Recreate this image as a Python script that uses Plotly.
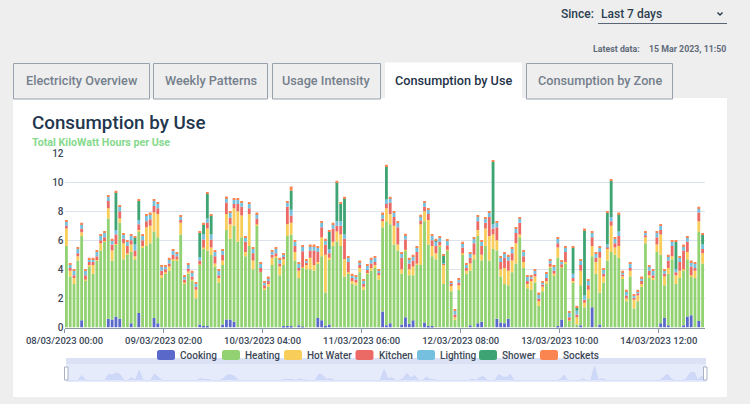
#!/usr/bin/env python3
"""Consumption by use dashboard panel: stacked hourly bars with a range strip."""

import plotly.graph_objects as go

WIDTH, HEIGHT = 750, 404
FONT = "Roboto, sans-serif"

# ── data ──────────────────────────────────────────────────────────────────────

tick_labels = [
    "08/03/2023 00:00", "09/03/2023 02:00", "10/03/2023 04:00", "11/03/2023 06:00",
    "12/03/2023 08:00", "13/03/2023 10:00", "14/03/2023 12:00",
]
y_ticks = [0, 2, 4, 6, 8, 10, 12]

cooking = [
    0, 0, 0, 0, .5, 0, 0, 0, 0, 0,
    0, .6, .55, .75, .6, 0, 0, .3, 0, 1.0,
    0, 0, 0, .65, .3, 0, 0, 0, 0, 0,
    0, 0, 0, 0, 0, .2, .1, .1, 0, 0,
    0, .2, .55, .55, .4, 0, 0, 0, 0, 0,
    0, 0, 0, 0, 0, 0, 0, .1, .1, .1,
    0, .15, .05, 0, 0, 0, .65, .5, .1, .2,
    0, 0, 0, 0, 0, 0, 0, 0, 0, 0,
    0, 0, 0, 1.1, .15, .3, 0, 0, .2, .7,
    .25, .5, 0, 0, .35, .1, .1, 0, 0, 0,
    0, 0, 0, 0, 0, 0, .15, 0, .3, .4,
    0, 0, 0, .6, .35, .3, .6, 0, 0, 0,
    0, 0, 0, 0, 0, 0, 0, 0, 0, .1,
    .55, 0, 0, 0, 0, .15, 0, 0, 1.4, 0,
    .2, 0, 0, 0, 0, 0, 0, 0, 0, 0,
    0, 0, 0, 0, 0, 0, .3, .65, .15, 0,
    0, 0, .15, .75, .85, 0, .45, 0,
]
heating = [
    5.6, 3.5, 3.0, 4.6, 5.8, 3.2, 4.2, 3.7, 4.6, 5.3,
    5.9, 6.9, 4.05, 4.95, 6.6, 4.7, 5.05, 4.9, 4.7, 5.6,
    5.5, 5.6, 5.8, 5.95, 5.9, 3.4, 3.7, 3.9, 4.6, 4.6,
    6.4, 3.0, 3.7, 3.25, 2.0, 4.1, 5.3, 5.2, 5.0, 4.2,
    3.1, 4.1, 6.15, 5.55, 6.6, 5.9, 6.2, 4.9, 5.6, 4.0,
    7.0, 3.8, 2.6, 2.8, 4.3, 4.8, 3.6, 4.2, 6.2, 6.3,
    4.6, 3.25, 4.05, 4.0, 4.0, 3.9, 3.75, 4.4, 2.3, 4.5,
    5.6, 5.9, 5.6, 3.5, 3.7, 3.0, 2.9, 3.8, 2.6, 3.7,
    3.9, 4.1, 3.3, 5.8, 7.15, 6.8, 5.7, 5.3, 3.5, 4.6,
    3.35, 3.1, 4.3, 4.3, 6.95, 5.6, 4.8, 4.7, 5.6, 3.0,
    5.3, 2.5, .55, 2.6, 5.0, 3.7, 3.75, 4.7, 6.0, 4.2,
    5.6, 4.6, 5.4, 4.7, 3.15, 2.7, 2.3, 3.8, 4.4, 6.2,
    4.1, 2.7, 2.6, 3.1, 1.5, 2.5, 3.0, 4.1, 3.6, 4.7,
    3.55, 4.4, .45, 3.1, .2, 2.75, 1.4, 2.0, 3.5, 3.7,
    2.2, 3.1, 4.6, 5.2, 5.0, 4.8, 3.4, 1.8, 3.5, 1.3,
    1.8, 2.8, 5.8, 3.4, 3.3, 5.2, 4.7, 2.25, 3.55, 4.7,
    3.0, 3.4, 3.75, 3.95, 2.65, 3.4, 6.15, 4.4,
]
hot_water = [
    1.2, .4, .4, .3, .25, .1, .1, .6, .05, .5,
    .05, .7, .7, .05, .3, 1.1, .05, .5, .2, .1,
    .1, 1.3, 1.2, 1.3, 1.6, .2, .1, .3, .1, .1,
    .8, .1, .15, .05, .6, .05, .1, 1.5, .5, .2,
    .3, .3, 1.1, 1.0, 1.2, 2.1, 1.5, .3, 2.2, .6,
    .1, 0, .1, .2, .5, .1, .6, .4, .8, .8,
    .6, .5, .05, .3, .8, .4, .1, 1.3, 2.6, .1,
    .3, .7, .8, 1.2, .1, .2, .2, .3, .2, .05,
    .2, .2, .3, .4, .9, .7, 1.3, .4, .3, .05,
    .4, .6, .1, 2.8, .7, 1.7, .7, .4, .05, 1.3,
    .05, .4, .15, .3, .1, .2, .5, .3, .4, .4,
    1.2, 1.7, 1.0, .7, .5, 1.1, 1.0, .8, 1.4, .2,
    .4, .3, .6, .4, .3, .3, .2, .1, .1, .7,
    .05, .1, .05, .1, .5, 1.0, .3, .6, .7, .8,
    2.4, .4, .8, 1.8, .5, .8, .1, .2, .4, .6,
    .4, .2, .4, .2, .1, .5, 1.4, .6, .4, .2,
    .6, .5, .1, .5, .1, .5, .7, .7,
]
kitchen = [
    .2, .2, .2, .2, .25, .3, .2, .2, .25, .2,
    .25, .5, .4, .65, .5, .3, .5, .3, .4, .4,
    .4, .4, .45, .45, .4, .3, .2, .2, .3, .2,
    .2, .2, .2, .2, .2, .25, .55, .4, .55, .5,
    .2, .4, .8, .45, .3, .5, .6, .7, .4, .5,
    .4, .3, .2, .2, .2, .2, .2, .15, 1.2, .5,
    .4, .2, 1.1, .15, .5, 1.0, .7, .7, .7, .3,
    .9, .4, .6, 1.4, .7, .2, .2, .2, .2, .2,
    .3, .2, .15, .2, .3, .8, .6, 1.2, .8, .7,
    .4, .4, .8, .25, .3, .4, .4, .5, .25, .08,
    .3, .1, .2, .2, .4, .2, .4, .8, .6, .6,
    .4, 1.3, .4, .9, .5, .7, .7, .5, .7, .8,
    .4, .2, .15, .2, .2, .15, .2, .2, .2, .3,
    .2, .7, .2, .2, .2, .4, .2, .3, .6, .3,
    .4, .2, .1, .3, .3, .7, .15, .2, .2, .15,
    .15, .2, .15, .3, .2, .5, .3, .2, .5, .7,
    .2, .6, 1.3, .7, .6, .2, .6, .3,
]
lighting = [
    .3, .2, .3, .3, .3, .3, .2, .2, .3, .3,
    .3, .3, .3, .3, .3, .3, .3, .3, .4, .3,
    .3, .4, .35, .35, .3, .3, .2, .3, .3, .2,
    .2, .2, .25, .3, .2, .25, .35, .3, .35, .3,
    .3, .3, .3, .35, .3, .3, .3, .3, .3, .3,
    .3, .3, .2, .2, .2, .3, .3, .15, .3, .4,
    .3, .3, .3, .15, .3, .3, .3, .3, .3, .3,
    .3, .3, .3, .3, .3, .2, .2, .2, .2, .3,
    .3, .3, .15, .3, .3, .3, .3, .3, .3, .3,
    .3, .3, .3, .3, .3, .3, .3, .3, .3, .05,
    .3, .1, .25, .2, .3, .2, .3, .3, .3, .3,
    .3, .3, .3, .3, .3, .3, .3, .3, .3, .3,
    .3, .3, .15, .2, .3, .15, .3, .2, .3, .3,
    .2, .3, .3, .3, .25, .3, .3, .3, .3, .3,
    .3, .3, .2, .3, .3, .3, .15, .3, .3, .15,
    .15, .2, .15, .3, .3, .3, .3, .2, .3, .3,
    .2, .3, .3, .3, .3, .3, .3, .3,
]
shower = [
    0, 0, 0, 0, 0, 0, 0, 0, 0, 0,
    0, 0, 0, 2.6, 0, 0, 0, 0, .5, 1.3,
    0, 0, 0, 0, 0, 0, 0, 0, 0, 0,
    0, 0, 0, 0, 0, 1.65, .7, 1.7, 1.3, 0,
    0, 0, 0, 0, 0, 0, 0, 0, 0, 0,
    0, 0, 0, 0, 0, 0, 0, 0, 0, 1.3,
    0, 0, 0, 0, 0, 0, 0, 0, 0, 1.2,
    0, 2.7, 1.2, 2.5, 0, 0, 0, 0, 0, 0,
    0, 0, 0, 0, 2.3, 0, 0, 0, 0, 0,
    0, 0, 0, 0, 0, 0, 0, .1, 0, .5,
    0, 0, 0, 0, 0, 0, 0, 0, 0, 0,
    0, 0, 4.3, 0, 0, 0, 0, 0, 0, 0,
    0, 0, 0, 0, 0, 0, 0, 0, 0, 0,
    0, 0, 0, 1.8, .25, 0, 4.5, 0, 0, 0,
    0, 0, 2.2, 2.5, 0, 1.2, 0, 0, 0, 0,
    0, 0, 0, 0, 0, 0, 0, 0, 0, 0,
    1.9, 0, 0, 0, 0, 0, 0, .7,
]
sockets = [
    .1, .1, .1, .1, .1, .1, .1, .1, .1, .1,
    .1, .1, .1, .1, .1, .1, .1, .1, .1, .1,
    .1, .1, .1, .1, .1, .1, .1, .1, .1, .1,
    .1, .1, .1, .1, .1, .1, .1, .1, .1, .1,
    .1, .1, .1, .1, .1, .1, .1, .1, .1, .1,
    .1, .1, .1, .1, .1, .1, .1, .1, .1, .3,
    .1, .1, .1, .1, .1, .1, .1, .1, .1, .1,
    .1, .1, .1, .1, .1, .1, .1, .1, .1, .1,
    .1, .1, .1, .1, .1, .1, .1, .1, .1, .1,
    .1, .1, .1, .1, .1, .1, .1, .1, .1, .1,
    .1, .1, .1, .1, .1, .1, .1, .1, .1, .1,
    .1, .1, .1, .1, .1, .1, .1, .1, .1, .1,
    .1, .1, .1, .1, .1, .1, .1, .1, .1, .1,
    .1, .1, .1, .1, .1, .1, .1, .1, .1, .1,
    .1, .1, .1, .1, .1, .1, .1, .1, .1, .1,
    .1, .1, .1, .1, .1, .1, .1, .1, .1, .1,
    .1, .1, .1, .1, .1, .1, .1, .1,
]

series_names = ["Cooking", "Heating", "Hot Water", "Kitchen", "Lighting", "Shower", "Sockets"]
series_values = [cooking, heating, hot_water, kitchen, lighting, shower, sockets]
series_colors = ["#5a69c9", "#93d273", "#f8cd5a", "#ec6a66", "#75bfdf", "#3ea473", "#fa8550"]

tab_names = ["Electricity Overview", "Weekly Patterns", "Usage Intensity", "Consumption by Use", "Consumption by Zone"]

# ── page furniture helpers (pixel coordinates of the 750x404 page) ───────────


def px(x):
    return x / WIDTH


def py(y):
    return 1 - y / HEIGHT


def box(x0, y0, x1, y1, fill, line=None, width=0, layer="below"):
    return dict(
        type="rect", xref="paper", yref="paper",
        x0=px(x0), x1=px(x1), y0=py(y1), y1=py(y0),
        fillcolor=fill, line=dict(color=line, width=width), layer=layer,
    )


def rounded(x0, y0, x1, y1, r, fill):
    path = (
        f"M{px(x0 + r)},{py(y0)} L{px(x1 - r)},{py(y0)} Q{px(x1)},{py(y0)} {px(x1)},{py(y0 + r)} "
        f"L{px(x1)},{py(y1 - r)} Q{px(x1)},{py(y1)} {px(x1 - r)},{py(y1)} "
        f"L{px(x0 + r)},{py(y1)} Q{px(x0)},{py(y1)} {px(x0)},{py(y1 - r)} "
        f"L{px(x0)},{py(y0 + r)} Q{px(x0)},{py(y0)} {px(x0 + r)},{py(y0)} Z"
    )
    return dict(type="path", xref="paper", yref="paper", path=path, fillcolor=fill, line=dict(width=0), layer="above")


def label(x, y, text, size, color, anchor="left", weight=400):
    return dict(
        x=px(x), y=py(y), xref="paper", yref="paper", text=text, showarrow=False,
        xanchor=anchor, yanchor="middle", borderpad=0,
        font=dict(family=FONT, size=size, color=color, weight=weight),
    )


# ── figure ────────────────────────────────────────────────────────────────────

hours = list(range(len(cooking)))
fig = go.Figure()

for name, values, color in zip(series_names, series_values, series_colors):
    fig.add_trace(go.Bar(x=hours, y=values, name=name, marker=dict(color=color, line=dict(width=0))))

# range strip shows the first series, as the dashboard does
fig.add_trace(
    go.Scatter(
        x=hours, y=cooking, mode="lines", fill="tozeroy", xaxis="x2", yaxis="y2",
        line=dict(color="#ccd6f5", width=1), fillcolor="rgba(200,211,246,0.8)",
        showlegend=False,
    )
)

shapes = [box(13, 98, 727, 397, "white")]
annotations = []

tab_edges = [(13.5, 149.5), (153.5, 267.5), (272.5, 380.5), (385, 522), (526.5, 672.5)]
for name, (x0, x1) in zip(tab_names, tab_edges):
    active = name == "Consumption by Use"
    if active:
        shapes.append(box(x0, 62.5, x1, 99, "white"))
    else:
        shapes.append(box(x0, 63.5, x1, 99, "#eeeeee", "#98a2ae", 1))
    annotations.append(label((x0 + x1) / 2, 81, name, 12.7, "#1f3349" if active else "#757f8c", "center", 500))

shapes.append(box(598, 23, 727, 24, "#5a6675"))
shapes.append(
    dict(
        type="path", xref="paper", yref="paper",
        path=f"M{px(717.5)},{py(12.5)} L{px(720)},{py(15)} L{px(722.5)},{py(12.5)}",
        line=dict(color="#2c3e50", width=1.5),
    )
)
annotations += [
    label(560, 14, "Since:", 12, "#2c3e50", weight=500),
    label(600, 14, "Last 7 days", 12, "#2c3e50", weight=500),
    label(592, 48.5, "Latest data:", 8.8, "#5f6b7a", weight=700),
    label(727, 48.5, "15 Mar 2023, 11:50", 8.8, "#5f6b7a", "right", 700),
    label(31, 123.5, "Consumption by Use", 18.8, "#22364d", weight=500),
    label(31, 142.5, "Total KiloWatt Hours per Use", 10.7, "#86d98c", weight=700),
]

swatch_edges = [157, 222, 284, 355.5, 417, 479, 540]
for name, color, x0 in zip(series_names, series_colors, swatch_edges):
    shapes.append(rounded(x0, 350, x0 + 18, 360, 2.5, color))
    annotations.append(label(x0 + 22, 355, name, 10, "#3c4858", weight=500))

# range strip frame and handles
shapes.append(box(66, 358, 706, 364, "#dbe2f6"))
shapes.append(box(66, 364, 706, 382, "#e6ebfc"))
shapes.append(box(64.5, 367, 68, 380, "white", "#a9b2c3", 1, "above"))
shapes.append(box(703.5, 367, 707, 380, "white", "#a9b2c3", 1, "above"))

fig.update_layout(
    width=WIDTH,
    height=HEIGHT,
    margin=dict(l=0, r=0, t=0, b=0, autoexpand=False),
    paper_bgcolor="#eeeeee",
    plot_bgcolor="rgba(0,0,0,0)",
    barmode="stack",
    bargap=0.26,
    showlegend=False,
    font=dict(family=FONT),
    shapes=shapes,
    annotations=annotations,
    xaxis=dict(
        domain=[px(64.5), px(704.5)],
        range=[-0.5, len(hours) - 0.5],
        tickvals=[-0.5, 25.5, 51.5, 77.5, 103.5, 129.5, 155.5],
        ticktext=tick_labels,
        tickangle=0,
        ticks="outside",
        ticklen=4,
        tickcolor="#8a97ab",
        showgrid=False,
        zeroline=False,
        showline=True,
        linecolor="#8a97ab",
        linewidth=1,
        automargin=False,
        tickfont=dict(family=FONT, size=9.5, color="#3c4858", weight=500),
    ),
    yaxis=dict(
        domain=[py(327.5), py(153)],
        range=[0, 12],
        tickvals=y_ticks,
        gridcolor="#dde3ee",
        gridwidth=1,
        zeroline=False,
        showline=False,
        ticklen=0,
        automargin=False,
        tickfont=dict(family=FONT, size=10, color="#3c4858", weight=500),
    ),
    xaxis2=dict(
        domain=[px(66.5), px(705.5)],
        range=[0, len(hours) - 1],
        anchor="y2",
        visible=False,
        automargin=False,
    ),
    yaxis2=dict(
        domain=[py(380.5), py(366.5)],
        range=[0, 1.4],
        anchor="x2",
        visible=False,
        automargin=False,
    ),
)

# thin bars look uneven with crisp edges, so let the browser smooth them
post_script = """
document.body.style.margin = '0';
var style = document.createElement('style');
style.textContent = '.bars path { shape-rendering: geometricPrecision !important; }';
document.head.appendChild(style);
"""

fig.write_html("out.html", config={"displayModeBar": False}, post_script=post_script)
